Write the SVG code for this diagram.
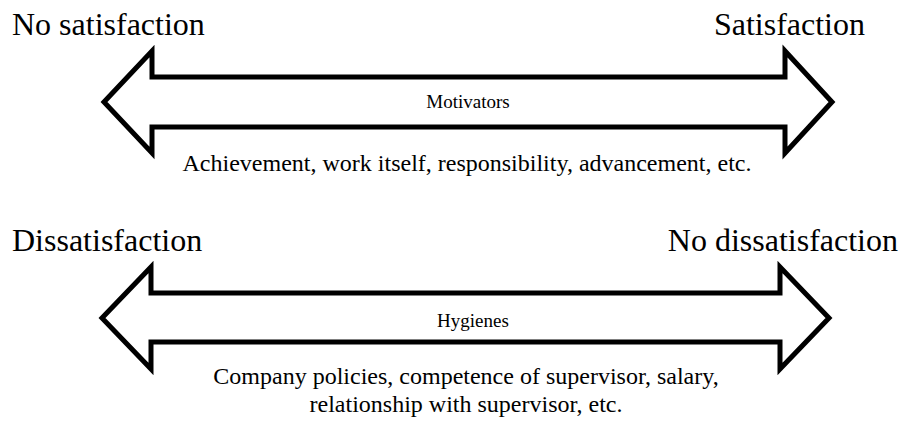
<svg xmlns="http://www.w3.org/2000/svg" width="902" height="423" viewBox="0 0 902 423">
<style>
.arrow{fill:#fff;stroke:#000;stroke-width:5;stroke-linejoin:miter;stroke-miterlimit:10}
.big{font-size:32px}
.mid{font-size:19px}
.sub{font-size:24px}
</style>
<rect width="902" height="423" fill="#fff"/>
<g id="connectors">
<polygon id="arrow-motivators" class="arrow" points="104,102 152,51 152,77 785,77 785,51 832,102 785,153 785,127 152,127 152,153"/>
<polygon id="arrow-hygienes" class="arrow" points="102,318 151,267 151,293 780,293 780,267 829,318 780,369 780,342 151,342 151,369"/>
</g>
<g font-family="Liberation Serif, DejaVu Serif, serif" fill="#000">
<g id="no-satisfaction"><text class="big" x="12" y="35">No satisfaction</text></g>
<g id="satisfaction"><text class="big" x="865" y="35" text-anchor="end">Satisfaction</text></g>
<g id="motivators"><text class="mid" x="468" y="108" text-anchor="middle">Motivators</text></g>
<g id="motivators-examples"><text class="sub" x="467" y="171" text-anchor="middle">Achievement, work itself, responsibility, advancement, etc.</text></g>
<g id="dissatisfaction"><text class="big" x="12" y="251">Dissatisfaction</text></g>
<g id="no-dissatisfaction"><text class="big" x="898" y="251" text-anchor="end">No dissatisfaction</text></g>
<g id="hygienes"><text class="mid" x="473" y="327" text-anchor="middle">Hygienes</text></g>
<g id="hygienes-examples"><text class="sub" x="466" y="384" text-anchor="middle">Company policies, competence of supervisor, salary,</text><text class="sub" x="466" y="412" text-anchor="middle">relationship with supervisor, etc.</text></g>
</g>
</svg>
